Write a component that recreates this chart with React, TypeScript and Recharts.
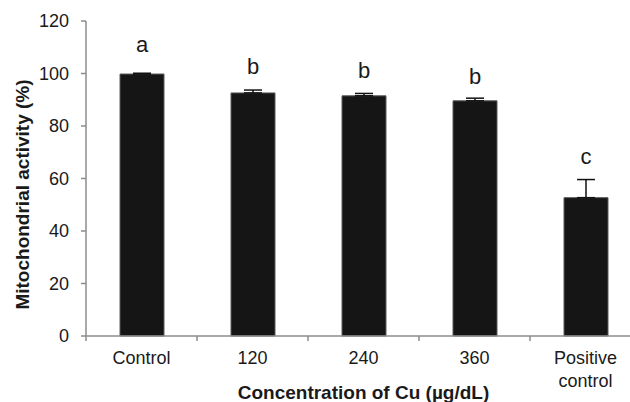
import React from 'react';
import { BarChart, Bar, XAxis, YAxis, ErrorBar, LabelList, Label } from 'recharts';

const categories = ['Control', '120', '240', '360', 'Positive control'];
const activity = [99.8, 92.6, 91.5, 89.6, 52.7];
const errors = [0.3, 1.1, 0.9, 1.0, 6.9];
const letters = ['a', 'b', 'b', 'b', 'c'];
const letterLevels = [110.9, 102.5, 101.3, 98.7, 68.2];
const yTicks = [0, 20, 40, 60, 80, 100, 120];
const boundaryTicks = [0, 1, 2, 3, 4, 5];

const data = categories.map((c, i) => ({
  name: c,
  pos: i + 0.5,
  value: activity[i],
  err: [0, errors[i]],
  letter: letters[i],
}));

const FONT = '"Liberation Sans", Arial, sans-serif';
const TEXT = '#1a1a1a';
const AXIS = '#8c8c8c';

const XTick = (props: any) => {
  const { x, y, payload } = props;
  const lines = payload.value === 'Positive control' ? ['Positive', 'control'] : [payload.value];
  return (
    <text x={x} y={y} textAnchor="middle" fontSize={18} fill={TEXT} fontFamily={FONT}>
      {lines.map((l: string, i: number) => (
        <tspan key={i} x={x} dy={i === 0 ? 27 : 22.5}>
          {l}
        </tspan>
      ))}
    </text>
  );
};

const LetterLabel = (props: any) => {
  const { x, y, width, height, index } = props;
  const v = activity[index];
  const ppu = height / v;
  const cy = y - (letterLevels[index] - v) * ppu;
  return (
    <text
      x={x + width / 2}
      y={cy}
      textAnchor="middle"
      dominantBaseline="central"
      fontSize={22}
      fill={TEXT}
      fontFamily={FONT}
    >
      {letters[index]}
    </text>
  );
};

export default function App() {
  return (
    <div style={{ position: 'absolute', left: 0, top: 0, width: 630, height: 402, overflow: 'hidden', background: '#fff' }}>
      <BarChart
        width={660}
        height={402}
        data={data}
        margin={{ top: 21, right: 19, left: 0, bottom: 0 }}
        barCategoryGap={0}
      >
        <XAxis
          xAxisId="b"
          dataKey="pos"
          type="number"
          domain={[0, 5]}
          ticks={boundaryTicks}
          allowDataOverflow
          height={1}
          tickSize={5}
          tickFormatter={() => ''}
          axisLine={{ stroke: AXIS, strokeWidth: 1.5 }}
          tickLine={{ stroke: AXIS, strokeWidth: 1.5 }}
        />
        <XAxis
          xAxisId="c"
          dataKey="name"
          height={65}
          tickSize={0}
          tickMargin={0}
          axisLine={false}
          tickLine={false}
          interval={0}
          tick={<XTick />}
        >
          <Label
            content={(p: any) => {
              const vb = p.viewBox;
              return (
                <text
                  x={vb.x + vb.width / 2}
                  y={vb.y + 62}
                  textAnchor="middle"
                  fontSize={19}
                  fontWeight="bold"
                  fill={TEXT}
                  fontFamily={FONT}
                >
                  Concentration of Cu (µg/dL)
                </text>
              );
            }}
          />
        </XAxis>
        <YAxis
          width={86}
          domain={[0, 120]}
          ticks={yTicks}
          tickSize={5}
          tickMargin={12}
          axisLine={{ stroke: AXIS, strokeWidth: 1.5 }}
          tickLine={{ stroke: AXIS, strokeWidth: 1.5 }}
          tick={{ fontSize: 18, fill: TEXT, fontFamily: FONT }}
        >
          <Label
            content={() => (
              <text
                transform="translate(22,194.5) rotate(-90)"
                textAnchor="middle"
                dominantBaseline="central"
                fontSize={19}
                fontWeight="bold"
                fill={TEXT}
                fontFamily={FONT}
              >
                Mitochondrial activity (%)
              </text>
            )}
          />
        </YAxis>
        <Bar
          xAxisId="c"
          dataKey="value"
          fill="#151515"
          stroke="#5a5a5a"
          strokeWidth={1}
          barSize={44}
          isAnimationActive={false}
        >
          <ErrorBar dataKey="err" width={9} stroke="#111" strokeWidth={1.5} direction="y" />
          <LabelList dataKey="letter" content={<LetterLabel />} />
        </Bar>
      </BarChart>
    </div>
  );
}
